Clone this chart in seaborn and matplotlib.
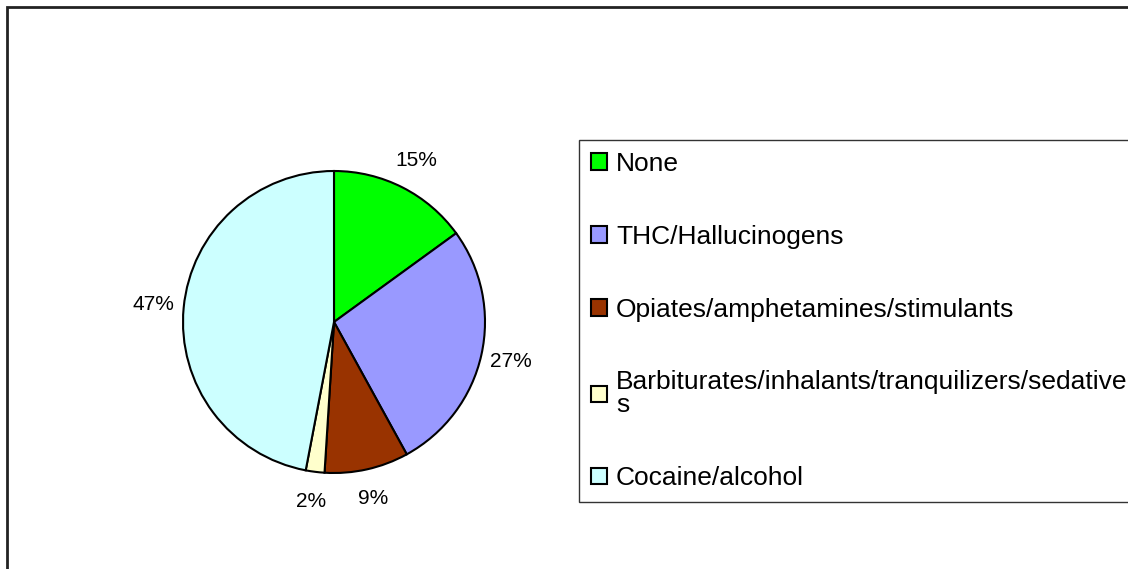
import matplotlib
matplotlib.use('Agg')
import matplotlib.pyplot as plt
import seaborn as sns
from matplotlib.patches import Rectangle

# Data
categories = ['None', 'THC/Hallucinogens', 'Opiates/amphetamines/stimulants',
              'Barbiturates/inhalants/tranquilizers/sedative\ns', 'Cocaine/alcohol']
shares = [15, 27, 9, 2, 47]
colors = ['#00FF00', '#9999FF', '#993300', '#FFFFCC', '#CCFFFF']

sns.set_theme(style='white')
plt.rcParams['font.family'] = ['Liberation Sans', 'DejaVu Sans']
plt.rcParams['text.color'] = 'black'

W, H = 1128, 569
fig = plt.figure(figsize=(W / 100, H / 100), dpi=100)
fig.patch.set_facecolor('white')

# outer chart frame (right and bottom edges fall outside the picture)
fig.patches.append(Rectangle((7 / W, -0.2), 1.2, 1.2 - 7 / H, transform=fig.transFigure,
                             fill=False, edgecolor='#222222', linewidth=2))

# pie axes: centre (334, 322), radius 151 px
cx, cy, r = 334, 322, 151
ax = fig.add_axes([(cx - r) / W, (H - cy - r) / H, 2 * r / W, 2 * r / H])
wedges, texts, autotexts = ax.pie(
    shares, colors=colors, startangle=90, counterclock=False,
    autopct='%1.0f%%', pctdistance=1.2,
    wedgeprops=dict(edgecolor='black', linewidth=1.5),
    textprops=dict(fontsize=15, color='black'))
ax.set_xlim(-1, 1)
ax.set_ylim(-1, 1)
ax.set_aspect('equal')
ax.axis('off')

leg = fig.legend(wedges, categories, loc='upper left',
                 bbox_to_anchor=(579 / W, 0, 0.6, 1 - 140 / H), mode='expand',
                 borderaxespad=0, frameon=True, fancybox=False, fontsize=19,
                 handlelength=0.6, handleheight=0.6, handletextpad=0.35,
                 labelspacing=1.85, borderpad=0.45, labelcolor='black')
leg.get_texts()[3].set_linespacing(0.95)
frame = leg.get_frame()
frame.set_edgecolor('black')
frame.set_linewidth(1.0)
for h in leg.legend_handles:
    h.set_edgecolor('black')
    h.set_linewidth(1.5)

fig.savefig('out.png', dpi=100)
